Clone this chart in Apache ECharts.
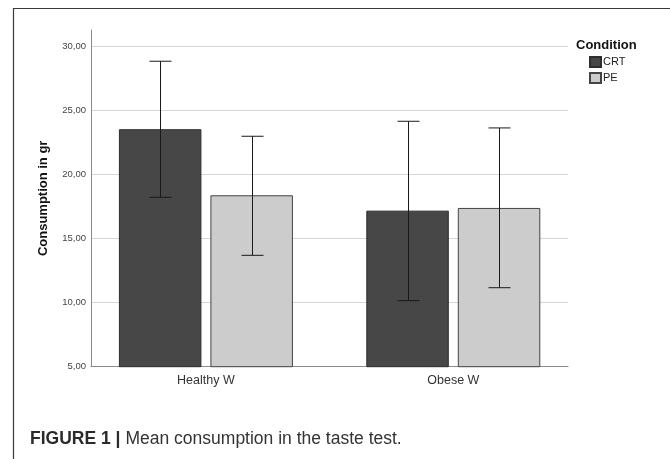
<!DOCTYPE html>
<html>
<head>
<meta charset="utf-8">
<script src="https://cdn.jsdelivr.net/npm/echarts@6/dist/echarts.min.js"></script>
<style>
html,body{margin:0;padding:0;background:#fff;}
#c{width:670px;height:459px;}
</style>
</head>
<body>
<div id="c"></div>
<script>
// ---- data ----
var categories = ['Healthy W', 'Obese W'];
var conditions = ['CRT', 'PE'];
var crtMean = [23.55, 17.19];
var peMean = [18.39, 17.40];
var crtLow = [18.23, 10.16];
var crtHigh = [28.86, 24.17];
var peLow = [13.70, 11.17];
var peHigh = [23.00, 23.65];
var yTicks = [5, 10, 15, 20, 25, 30];

// ---- layout constants ----
var BAR_W = 82.5;
var GAP_PX = 9;
var CAP_HALF = 11;
var FONT = "'Liberation Sans', Arial, sans-serif";

function barData(arr) { return arr.map(function (v, i) { return [i, v]; }); }
var errData = [];
categories.forEach(function (c, i) {
  errData.push([i, crtLow[i], crtHigh[i], 0]);
  errData.push([i, peLow[i], peHigh[i], 1]);
});

var chart = echarts.init(document.getElementById('c'), null, { renderer: 'canvas' });
chart.setOption({
  animation: false,
  backgroundColor: '#fff',
  textStyle: { fontFamily: FONT },
  graphic: [{
    type: 'polyline',
    shape: { points: [[13.5, 459], [13.5, 8.5], [670, 8.5]] },
    style: { stroke: '#3a3a3a', lineWidth: 1.2, fill: null },
    silent: true
  }],
  title: [{
    text: 'Condition',
    left: 571, top: 34,
    textStyle: { fontSize: 13, fontWeight: 'bold', color: '#111', fontFamily: FONT }
  }, {
    text: '{b|FIGURE 1 |} {r|Mean consumption in the taste test.}',
    left: 25, top: 425,
    textStyle: {
      fontFamily: FONT, fontWeight: 'normal',
      rich: {
        b: { fontSize: 17.5, fontWeight: 'bold', color: '#2a2a2a', fontFamily: FONT },
        r: { fontSize: 17.5, fontWeight: 'normal', color: '#333', fontFamily: FONT }
      }
    }
  }],
  legend: {
    data: conditions,
    orient: 'vertical',
    left: 584, top: 51,
    itemWidth: 11, itemHeight: 10, itemGap: 4,
    icon: 'rect',
    textStyle: { fontSize: 11, color: '#222', fontFamily: FONT, padding: [0, 0, 0, -3] }
  },
  grid: { left: 91, right: 102, top: 30, bottom: 92.3, containLabel: false },
  xAxis: {
    type: 'value',
    min: -0.4645, max: 1.4636,
    axisLine: { show: true, onZero: false, lineStyle: { color: '#8a8a8a', width: 1 } },
    axisTick: { show: false },
    splitLine: { show: false },
    axisLabel: {
      customValues: [0, 1],
      formatter: function (v) { return categories[Math.round(v)]; },
      fontSize: 12.5, color: '#333', margin: 7, fontFamily: FONT
    }
  },
  yAxis: {
    type: 'value',
    min: 5, max: 31.3, interval: 5,
    name: 'Consumption in gr',
    nameLocation: 'middle',
    nameGap: 41,
    nameTextStyle: { fontSize: 13, fontWeight: 'bold', color: '#111', fontFamily: FONT },
    axisLine: { show: true, onZero: false, lineStyle: { color: '#8a8a8a', width: 1 } },
    axisTick: { show: false },
    axisLabel: {
      showMaxLabel: false,
      formatter: function (v) { return v.toFixed(2).replace('.', ','); },
      fontSize: 9.5, color: '#444', margin: 5, fontFamily: FONT
    },
    splitLine: { show: true, showMaxLine: false, showMinLine: false, lineStyle: { color: '#d6d6d6', width: 1 } }
  },
  series: [{
    name: 'CRT', type: 'bar', data: barData(crtMean),
    barWidth: BAR_W, barGap: (GAP_PX / BAR_W * 100) + '%',
    itemStyle: { color: '#474747', borderColor: '#2e2e2e', borderWidth: 1 }
  }, {
    name: 'PE', type: 'bar', data: barData(peMean),
    barWidth: BAR_W, barGap: (GAP_PX / BAR_W * 100) + '%',
    itemStyle: { color: '#cccccc', borderColor: '#444', borderWidth: 1 }
  }, {
    type: 'custom',
    data: errData,
    z: 10,
    renderItem: function (params, api) {
      var off = (api.value(3) === 0 ? -1 : 1) * (BAR_W + GAP_PX) / 2;
      var lo = api.coord([api.value(0), api.value(1)]);
      var hi = api.coord([api.value(0), api.value(2)]);
      var x = Math.round(lo[0] + off) + 0.5;
      var style = { stroke: '#1a1a1a', lineWidth: 1 };
      return {
        type: 'group',
        children: [
          { type: 'line', shape: { x1: x, y1: hi[1], x2: x, y2: lo[1] }, style: style },
          { type: 'line', shape: { x1: x - CAP_HALF, y1: hi[1], x2: x + CAP_HALF, y2: hi[1] }, style: style },
          { type: 'line', shape: { x1: x - CAP_HALF, y1: lo[1], x2: x + CAP_HALF, y2: lo[1] }, style: style }
        ]
      };
    }
  }]
});
</script>
</body>
</html>
